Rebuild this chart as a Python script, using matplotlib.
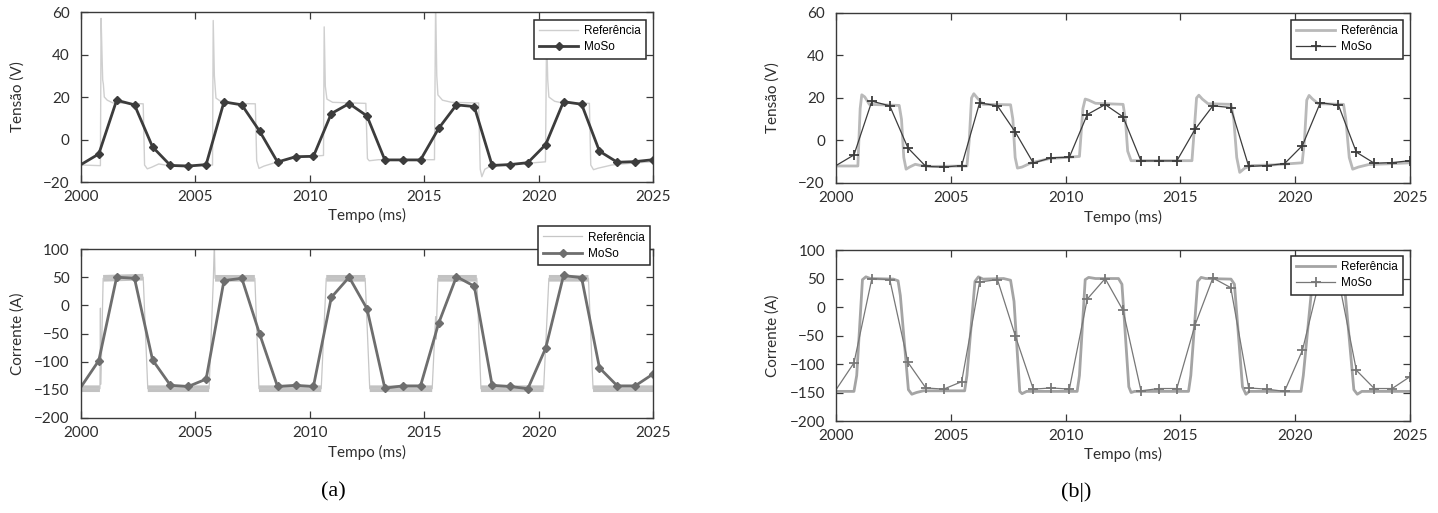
import numpy as np
import matplotlib
matplotlib.use("Agg")
import matplotlib.pyplot as plt

# MoSo samples (same in (a) and (b))
t_moso = [2000.00, 2000.78, 2001.56, 2002.34, 2003.13, 2003.91, 2004.69, 2005.47,
          2006.25, 2007.03, 2007.81, 2008.59, 2009.38, 2010.16, 2010.94, 2011.72,
          2012.50, 2013.28, 2014.06, 2014.84, 2015.63, 2016.41, 2017.19, 2017.97,
          2018.75, 2019.53, 2020.31, 2021.09, 2021.88, 2022.66, 2023.44, 2024.22, 2025.00]
v_moso = [-11.8, -6.8, 18.5, 16.3, -3.5, -12.2, -12.5, -11.8, 17.7, 16.3, 3.9, -10.6,
          -8.1, -7.9, 12.2, 16.9, 11.1, -9.6, -9.6, -9.6, 5.2, 16.3, 15.5, -12.2,
          -11.8, -10.9, -2.4, 17.8, 16.6, -5.5, -10.7, -10.4, -9.5]
i_moso = [-145, -98, 50, 48, -97, -142, -144, -131, 44, 48, -51, -144, -142, -144, 14, 50,
          -6, -147, -143, -143, -32, 51, 34, -142, -144, -148, -76, 53, 49, -111, -143, -143, -122]

# reference (a): voltage with switching spikes
t_ref_va = [2000.0, 2000.85, 2000.88, 2000.92, 2000.95, 2000.98, 2001.02, 2001.15, 2001.4,
            2002.72, 2002.78, 2002.9, 2003.1, 2003.4, 2003.8, 2004.5, 2005.2, 2005.75,
            2005.78, 2005.83, 2005.9, 2006.1, 2006.5, 2007.62, 2007.68, 2007.78, 2008.0,
            2008.6, 2009.3, 2010.0, 2010.6, 2010.63, 2010.68, 2010.75, 2011.0, 2012.45,
            2012.52, 2012.6, 2013.0, 2015.45, 2015.5, 2015.55, 2015.6, 2015.8, 2016.2,
            2017.38, 2017.45, 2017.52, 2017.65, 2017.9, 2018.5, 2019.5, 2020.3, 2020.35,
            2020.4, 2020.45, 2020.7, 2021.0, 2022.22, 2022.28, 2022.4, 2022.6, 2023.2,
            2024.2, 2025.0]
v_ref_a = [-12, -12.3, 57, 40, 28, 26, 20, 18.5, 17.2,
           16.8, -12, -13.8, -13, -11.5, -12.2, -12, -12.3, -12,
           56, 30, 19.5, 18, 17, 16.8, -10, -13.6, -12.5,
           -10.5, -8.8, -8, -7.5, 53, 25, 19, 17.5, 17,
           -9, -10, -9.5, -9.5, 65, 30, 21, 18.5, 17.5,
           17.2, -14, -17.5, -14, -12.5, -11.8, -11.2, -10.5, 50,
           28, 20, 18, 17.3, 17, -12, -14.2, -13.5, -12,
           -11, -10.5]

# reference (a): current (noisy plateaus)
t_ref_ia = [2000.0, 2000.83, 2000.85, 2000.87, 2000.97, 2002.72, 2002.92, 2005.6, 2005.78,
            2005.83, 2005.86, 2007.6, 2007.78, 2010.5, 2010.72, 2012.42, 2012.62, 2015.35,
            2015.5, 2015.52, 2015.6, 2017.3, 2017.48, 2020.22, 2020.45, 2022.18, 2022.38, 2025.0]
i_ref_a = [-148, -148, -5, -140, 48, 50, -148, -148, 40,
           110, 48, 48, -148, -148, 48, 48, -148, -148,
           -20, -60, 48, 48, -148, -148, 48, 48, -148, -148]

# reference (b): smooth voltage
t_ref_vb = [2000.0, 2000.95, 2001.05, 2001.12, 2001.25, 2001.45, 2002.75, 2002.85, 2002.95,
            2003.05, 2003.2, 2003.45, 2003.7, 2004.2, 2005.7, 2005.8, 2005.9, 2006.0, 2006.15,
            2006.4, 2007.6, 2007.7, 2007.8, 2007.9, 2008.1, 2008.5, 2009.3, 2010.0, 2010.6,
            2010.75, 2010.85, 2011.0, 2011.3, 2012.5, 2012.6, 2012.7, 2012.85, 2015.5, 2015.6,
            2015.7, 2015.8, 2015.95, 2016.2, 2017.2, 2017.32, 2017.45, 2017.58, 2017.8,
            2018.1, 2019.0, 2020.3, 2020.4, 2020.5, 2020.6, 2020.75, 2021.0, 2022.1, 2022.2,
            2022.35, 2022.5, 2022.75, 2023.2, 2024.0, 2025.0]
v_ref_b = [-12, -12, 15, 21.5, 20.5, 17, 16.5, 10, -8,
           -13.5, -12.5, -11.2, -11.8, -12.2, -12, 0, 20, 22, 20,
           17, 16.8, 10, -8, -13, -12.5, -10.5, -8.5, -8, -7.5,
           15, 19.5, 19, 17.5, 17, 10, -5, -9.5, -9.5, 5,
           20, 21.3, 19.5, 17.3, 17, 10, -8, -15, -13,
           -11.8, -11.5, -10.5, 0, 19, 21.2, 19.5, 17.3, 17, 10,
           -8, -13.5, -12.5, -11.3, -11, -10.5]

# reference (b): smooth current
t_ref_ib = [2000.0, 2000.78, 2000.9, 2001.15, 2001.3, 2001.5, 2002.5, 2002.7, 2002.8,
            2003.15, 2003.3, 2003.5, 2003.8, 2005.6, 2005.7, 2006.05, 2006.2, 2006.4,
            2007.3, 2007.6, 2007.75, 2008.0, 2008.1, 2008.3, 2010.5, 2010.6, 2010.85,
            2011.0, 2011.3, 2012.3, 2012.45, 2012.75, 2012.85, 2013.0, 2015.35, 2015.45,
            2015.75, 2015.9, 2016.1, 2017.2, 2017.35, 2017.7, 2017.85, 2018.0, 2020.25,
            2020.35, 2020.75, 2020.9, 2021.1, 2022.0, 2022.15, 2022.55, 2022.7, 2022.9, 2025.0]
i_ref_b = [-148, -148, -120, 48, 53, 50, 49, 46, 20,
           -145, -153, -150, -147, -147, -120, 45, 53, 49,
           50, 47, 10, -148, -152, -148, -148, -120, 48,
           52, 50, 50, 40, -140, -150, -148, -148, -120,
           45, 52, 50, 49, 40, -140, -153, -148, -148,
           -120, 48, 52, 50, 49, 35, -145, -153, -148, -148]

xticks = [2000, 2005, 2010, 2015, 2020, 2025]
vticks = [-20, 0, 20, 40, 60]
iticks = [-200, -150, -100, -50, 0, 50, 100]

tick_font = 'Lato'
leg_font = 'Liberation Sans'


def plateaus(t, y, tol=20):
    # keep only the flat parts of a breakpoint curve (NaN between pieces)
    xs, ys = [], []
    for k in range(len(t) - 1):
        if abs(y[k + 1] - y[k]) < tol and t[k + 1] - t[k] > 0.1:
            xs += [t[k], t[k + 1], np.nan]
            ys += [y[k], y[k + 1], np.nan]
    return xs, ys


def style_axes(ax, yticks, ylabel, xlab_y, ylab_x=-0.098):
    ax.set_xlim(2000, 2025)
    ax.set_ylim(yticks[0], yticks[-1])
    ax.set_xticks(xticks)
    ax.set_yticks(yticks)
    ax.tick_params(direction='in', top=True, right=True, length=5, width=0.9,
                   color='#3a3a3a', labelsize=11, labelcolor='#2e2e2e')
    ax.tick_params(axis='x', pad=6)
    ax.tick_params(axis='y', pad=8)
    for lab in ax.get_xticklabels() + ax.get_yticklabels():
        lab.set_fontfamily(tick_font)
    for s in ax.spines.values():
        s.set_color('#3a3a3a')
        s.set_linewidth(1.0)
    ax.set_xlabel('Tempo (ms)', fontfamily=tick_font, fontsize=11, color='#2e2e2e')
    ax.set_ylabel(ylabel, fontfamily=tick_font, fontsize=11, color='#2e2e2e')
    ax.xaxis.set_label_coords(0.5, xlab_y)
    ax.yaxis.set_label_coords(ylab_x, 0.5)


def add_legend(ax, x, y):
    leg = ax.legend(loc='upper right', bbox_to_anchor=(x, y), borderaxespad=0,
                    prop={'family': leg_font, 'size': 8.5}, handlelength=3.3,
                    handletextpad=0.5, borderpad=0.45, labelspacing=0.35,
                    fancybox=False, framealpha=1)
    leg.get_frame().set_edgecolor('#2a2a2a')
    leg.get_frame().set_linewidth(1.1)
    return leg


fig = plt.figure(figsize=(14.38, 5.13), dpi=100)

ax1 = fig.add_axes([0.0563, 0.6452, 0.3978, 0.3314])
ax2 = fig.add_axes([0.0563, 0.1852, 0.3978, 0.3294])
ax3 = fig.add_axes([0.5814, 0.6433, 0.3992, 0.3314])
ax4 = fig.add_axes([0.5814, 0.1793, 0.3992, 0.3333])

# (a) voltage
ax1.plot(t_ref_va, v_ref_a, color='#cfcfcf', lw=1.0, label='Referência')
ax1.plot(t_moso, v_moso, color='#3c3c3c', lw=2.0, marker='D', ms=4.5,
         markevery=slice(1, None), label='MoSo')
style_axes(ax1, vticks, 'Tensão (V)', -0.155)
add_legend(ax1, 0.988, 0.953)

# (a) current
bx, by = plateaus(t_ref_ia, i_ref_a)
ax2.plot(bx, by, color='#c2c2c2', lw=4.8, solid_capstyle='butt')
ax2.plot(t_ref_ia, i_ref_a, color='#c6c6c6', lw=0.9, label='Referência')
ax2.plot(t_moso, i_moso, color='#6e6e6e', lw=2.0, marker='D', ms=4.5,
         markevery=slice(1, None), label='MoSo')
style_axes(ax2, iticks, 'Corrente (A)', -0.16)
leg2 = add_legend(ax2, 0.9948, 1.135)
leg2.set_zorder(10)

# (b) voltage
ax3.plot(t_ref_vb, v_ref_b, color='#b9b9b9', lw=2.0, label='Referência')
ax3.plot(t_moso, v_moso, color='#3c3c3c', lw=0.9, marker='+', ms=6.5, mew=1.3,
         markevery=slice(1, None), label='MoSo')
style_axes(ax3, vticks, 'Tensão (V)', -0.159)
add_legend(ax3, 0.988, 0.959)

# (b) current
ax4.plot(t_ref_ib, i_ref_b, color='#a4a4a4', lw=2.0, label='Referência')
ax4.plot(t_moso, i_moso, color='#777777', lw=0.9, marker='+', ms=6.5, mew=1.3,
         markevery=slice(1, None), label='MoSo')
style_axes(ax4, iticks, 'Corrente (A)', -0.152)
add_legend(ax4, 0.988, 0.965)

fig.text(333 / 1438, 1 - 492 / 513, '(a)', family='Liberation Serif', fontsize=16,
         ha='center', va='center')
fig.text(1076 / 1438, 1 - 492 / 513, '(b|)', family='Liberation Serif', fontsize=16,
         ha='center', va='center')

fig.savefig('out.png', dpi=100)
